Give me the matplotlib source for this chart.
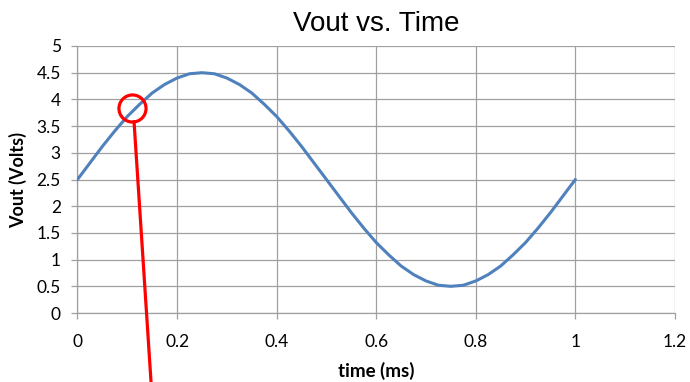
import matplotlib
matplotlib.use("Agg")
import matplotlib.pyplot as plt

# ---------------------------------------------------------------------------
# Data
# ---------------------------------------------------------------------------

time_ms = [0.0, 0.025, 0.05, 0.075, 0.1, 0.125, 0.15, 0.175, 0.2, 0.225,
           0.25, 0.275, 0.3, 0.325, 0.35, 0.375, 0.4, 0.425, 0.45, 0.475,
           0.5, 0.525, 0.55, 0.575, 0.6, 0.625, 0.65, 0.675, 0.7, 0.725,
           0.75, 0.775, 0.8, 0.825, 0.85, 0.875, 0.9, 0.925, 0.95, 0.975, 1.0]
vout = [2.5, 2.81, 3.12, 3.41, 3.68, 3.91, 4.12, 4.28, 4.40, 4.48,
        4.5, 4.48, 4.40, 4.28, 4.12, 3.91, 3.68, 3.41, 3.12, 2.81,
        2.5, 2.19, 1.88, 1.59, 1.32, 1.09, 0.88, 0.72, 0.60, 0.52,
        0.5, 0.52, 0.60, 0.72, 0.88, 1.09, 1.32, 1.59, 1.88, 2.19, 2.5]

x_ticks = [0, 0.2, 0.4, 0.6, 0.8, 1, 1.2]
x_tick_labels = ["0", "0.2", "0.4", "0.6", "0.8", "1", "1.2"]
y_ticks = [0, 0.5, 1, 1.5, 2, 2.5, 3, 3.5, 4, 4.5, 5]
y_tick_labels = ["0", "0.5", "1", "1.5", "2", "2.5", "3", "3.5", "4", "4.5", "5"]

# highlighted point and the pointer line running off the bottom
circle_t, circle_v = 0.1096, 3.84
pointer_t = [0.1136, 0.1477]
pointer_v = [3.58, -1.29]

LINE_BLUE = "#4F81BD"
GRID_GRAY = "#A0A0A0"
TICK_FONT = "Lato"

fig = plt.figure(figsize=(6.9, 3.82), dpi=100)
ax = fig.add_axes([0.1123, 0.1806, 0.8659, 0.6990])

ax.plot(time_ms, vout, color=LINE_BLUE, linewidth=2.2, solid_capstyle="round", zorder=3)

# red callout
ax.plot([circle_t], [circle_v], marker="o", markersize=19.5, markerfacecolor="none",
        markeredgecolor="#FF0000", markeredgewidth=2.3, linestyle="none", zorder=4,
        clip_on=False)
ax.plot(pointer_t, pointer_v, color="#FF0000", linewidth=2.3, zorder=4, clip_on=False)

ax.set_xlim(0, 1.2)
ax.set_ylim(0, 5)
ax.set_xticks(x_ticks)
ax.set_xticklabels(x_tick_labels, fontfamily=TICK_FONT, fontsize=12.5)
ax.set_yticks(y_ticks)
ax.set_yticklabels(y_tick_labels, fontfamily=TICK_FONT, fontsize=12.5)

ax.grid(True, color=GRID_GRAY, linewidth=0.9)
ax.set_axisbelow(True)
for side in ("top", "right"):
    ax.spines[side].set_visible(False)
for side in ("left", "bottom"):
    ax.spines[side].set_color(GRID_GRAY)
    ax.spines[side].set_linewidth(0.9)
ax.tick_params(axis="both", direction="out", length=4.5, width=0.9,
               color=GRID_GRAY, labelcolor="black")
ax.tick_params(axis="x", pad=10.5)
ax.tick_params(axis="y", pad=7.5)

ax.set_xlabel("time (ms)", fontfamily=TICK_FONT, fontweight="bold", fontsize=13.5, labelpad=9)
ax.set_ylabel("Vout (Volts)", fontfamily=TICK_FONT, fontweight="bold", fontsize=13, labelpad=7)
ax.set_title("Vout vs. Time", fontfamily="Liberation Sans", fontsize=20, pad=10.5)

fig.savefig("out.png", dpi=100)
plt.close(fig)
